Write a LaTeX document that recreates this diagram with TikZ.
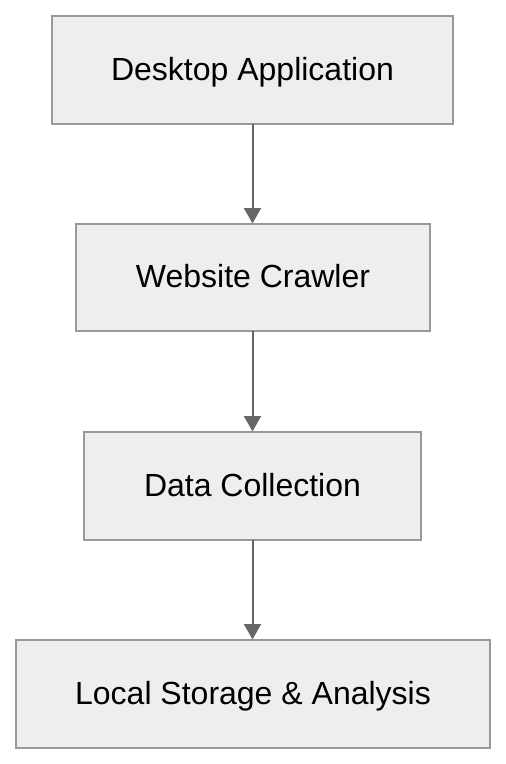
\documentclass[tikz,border=0pt]{standalone}
\usepackage{fontspec}
\setmainfont{Liberation Sans}
\usetikzlibrary{arrows.meta}
\definecolor{boxfill}{HTML}{EEEEEE}
\definecolor{boxline}{HTML}{999999}
\definecolor{arrowc}{HTML}{666666}
\begin{document}
\begin{tikzpicture}[x=1pt,y=-1pt,
  stepbox/.style={draw=boxline,fill=boxfill,line width=1.5pt},
  label/.style={anchor=base,inner sep=0pt,font=\fontsize{32}{36}\selectfont},
  flow/.style={draw=arrowc,line width=2pt,-{Triangle[width=17pt,length=15.5pt]}}]
\useasboundingbox (0,0) rectangle (506,764);
\draw[stepbox] (52,16) rectangle (453,124);
\node[label] (a) at (252.5,80) {Desktop Application};
\coordinate (ab) at (252.5,124);
\draw[stepbox] (76,224) rectangle (430,331);
\node[label] (b) at (253,287.5) {Website Crawler};
\coordinate (bt) at (252.5,223.5);
\coordinate (bb) at (252.5,331);
\draw[stepbox] (84,432) rectangle (421,540);
\node[label] (c) at (252.5,496) {Data Collection};
\coordinate (ct) at (252.5,431.5);
\coordinate (cb) at (252.5,540);
\draw[stepbox] (16,640) rectangle (490,748);
\node[label] (d) at (253,704) {Local Storage \& Analysis};
\coordinate (dt) at (252.5,639.5);
\draw[flow] (ab) -- (bt);
\draw[flow] (bb) -- (ct);
\draw[flow] (cb) -- (dt);
\end{tikzpicture}
\end{document}
